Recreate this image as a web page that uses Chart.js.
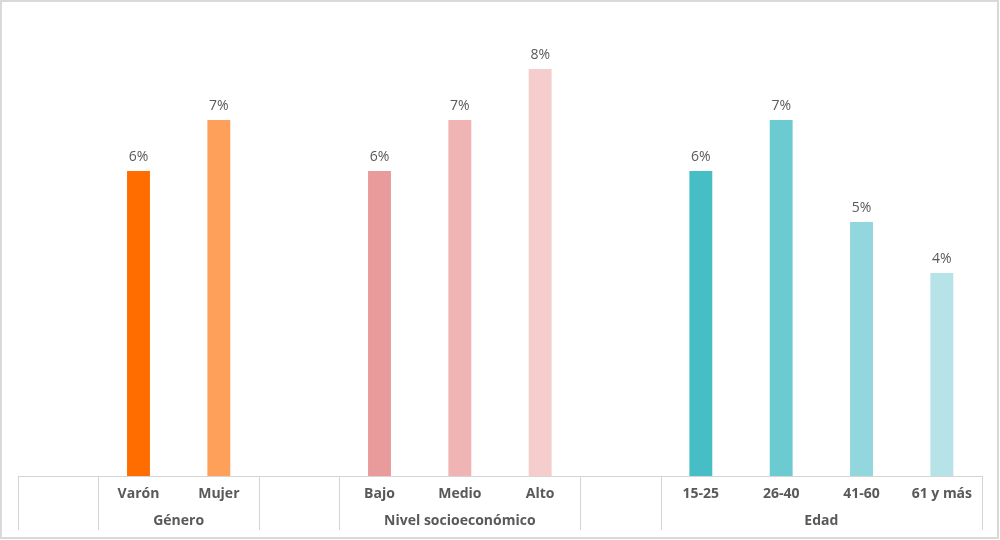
<!DOCTYPE html>
<html>
<head>
<meta charset="utf-8">
<script src="https://cdn.jsdelivr.net/npm/chart.js@4/dist/chart.umd.min.js"></script>
<style>
html,body{margin:0;padding:0;background:#fff;}
#wrap{width:1000px;height:540px;position:relative;}
</style>
</head>
<body>
<div id="wrap"><canvas id="c" width="1000" height="540"></canvas></div>
<script>
const categories = ["", "Varón", "Mujer", "", "Bajo", "Medio", "Alto", "", "15-25", "26-40", "41-60", "61 y más"];
const values = [null, 6, 7, null, 6, 7, 8, null, 6, 7, 5, 4];
const valueLabels = ["", "6%", "7%", "", "6%", "7%", "8%", "", "6%", "7%", "5%", "4%"];
const barColors = ["#ffffff", "#FF6D00", "#FFA05A", "#ffffff", "#E99A9A", "#F0B4B4", "#F5CDCD", "#ffffff", "#47BEC6", "#6CCAD1", "#92D7DD", "#B5E3E7"];
const groups = ["Género", "Nivel socioeconómico", "Edad"];
const groupStart = [1, 4, 8];
const groupEnd = [2, 6, 11];
const separators = [0, 1, 3, 4, 7, 8, 12];

const FONT = "'Open Sans', sans-serif";
const TEXT = "#595959";
const LINE = "#d4d4d4";

const tablePlugin = {
  id: 'tablePlugin',
  beforeDraw(chart) {
    const ctx = chart.ctx;
    ctx.save();
    ctx.strokeStyle = "#d9d9d9";
    ctx.lineWidth = 2;
    ctx.strokeRect(1, 1, 997, 537);
    ctx.restore();
  },
  afterDraw(chart) {
    const ctx = chart.ctx;
    const xs = chart.scales.x;
    const area = chart.chartArea;
    const half = (xs.getPixelForValue(1) - xs.getPixelForValue(0)) / 2;
    const edge = i => xs.getPixelForValue(i) - half;
    ctx.save();
    ctx.strokeStyle = LINE;
    ctx.lineWidth = 1;
    ctx.beginPath();
    ctx.moveTo(edge(0), area.bottom + 0.5);
    ctx.lineTo(edge(12), area.bottom + 0.5);
    separators.forEach(i => {
      const x = Math.round(edge(i)) + 0.5;
      ctx.moveTo(x, area.bottom);
      ctx.lineTo(x, 530);
    });
    ctx.stroke();
    ctx.fillStyle = TEXT;
    ctx.font = "bold 14px " + FONT;
    ctx.textAlign = "center";
    ctx.textBaseline = "middle";
    groups.forEach((g, k) => {
      const cx = (edge(groupStart[k]) + edge(groupEnd[k] + 1)) / 2;
      ctx.fillText(g, cx, 521);
    });
    // value labels
    const meta = chart.getDatasetMeta(0);
    ctx.font = "14px " + FONT;
    ctx.textBaseline = "bottom";
    meta.data.forEach((bar, i) => {
      if (values[i] == null) return;
      ctx.fillText(valueLabels[i], bar.x, bar.y - 6);
    });
    ctx.restore();
  }
};

new Chart(document.getElementById('c'), {
  type: 'bar',
  data: {
    labels: categories,
    datasets: [{
      data: values,
      backgroundColor: barColors,
      borderColor: "rgba(255,255,255,0.35)",
      borderWidth: 1,
      categoryPercentage: 1,
      barPercentage: 0.31
    }]
  },
  options: {
    responsive: false,
    animation: false,
    layout: { padding: { left: 18, right: 18, top: 17, bottom: 0 } },
    plugins: { legend: { display: false }, tooltip: { enabled: false } },
    scales: {
      x: {
        grid: { display: false },
        border: { display: false },
        ticks: { color: TEXT, font: { family: FONT, size: 14, weight: 'bold' }, padding: 2, maxRotation: 0, autoSkip: false },
        afterFit(s) { s.height = 64; }
      },
      y: {
        display: false,
        min: 0,
        max: 9
      }
    }
  },
  plugins: [tablePlugin]
});
</script>
</body>
</html>
